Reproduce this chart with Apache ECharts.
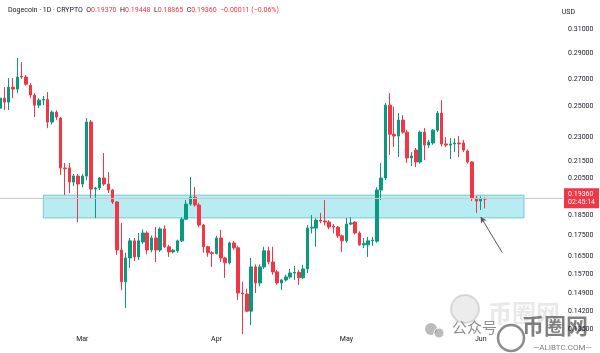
<!DOCTYPE html>
<html>
<head>
<meta charset="utf-8">
<script src="https://cdn.jsdelivr.net/npm/echarts@6/dist/echarts.min.js"></script>
<style>
  html, body { margin: 0; padding: 0; background: #fff; }
  #main { width: 600px; height: 353px; }
</style>
</head>
<body>
<div id="main"></div>
<script>
// daily candles, Feb 10 .. Jun 2 2025  [open, close, low, high]
const startDay = '2025-02-10'
const dayCount = 131
const monthNames = ['Jan', 'Feb', 'Mar', 'Apr', 'May', 'Jun', 'Jul']
const ohlc = [
  [0.2490, 0.2560, 0.2423, 0.2596],
  [0.2560, 0.2532, 0.2477, 0.2639],
  [0.2532, 0.2639, 0.2477, 0.2706],
  [0.2639, 0.2625, 0.2560, 0.2706],
  [0.2625, 0.2714, 0.2596, 0.2861],
  [0.2720, 0.2714, 0.2700, 0.2829],
  [0.2714, 0.2661, 0.2650, 0.2729],
  [0.2654, 0.2582, 0.2560, 0.2668],
  [0.2582, 0.2511, 0.2430, 0.2596],
  [0.2511, 0.2546, 0.2490, 0.2560],
  [0.2546, 0.2550, 0.2511, 0.2575],
  [0.2550, 0.2396, 0.2356, 0.2603],
  [0.2396, 0.2463, 0.2380, 0.2475],
  [0.2463, 0.2430, 0.2410, 0.2475],
  [0.2423, 0.2110, 0.2069, 0.2430],
  [0.2110, 0.2105, 0.1957, 0.2139],
  [0.2110, 0.2029, 0.1968, 0.2139],
  [0.2029, 0.2063, 0.2007, 0.2075],
  [0.2063, 0.2018, 0.1816, 0.2075],
  [0.2018, 0.2063, 0.2000, 0.2075], // Mar 1
  [0.2063, 0.2396, 0.2040, 0.2423],
  [0.2396, 0.1990, 0.1941, 0.2410],
  [0.1990, 0.1996, 0.1837, 0.2002],
  [0.1996, 0.2052, 0.1985, 0.2058],
  [0.2052, 0.2018, 0.2007, 0.2199],
  [0.2018, 0.1985, 0.1968, 0.2086],
  [0.1985, 0.1920, 0.1909, 0.1990],
  [0.1920, 0.1681, 0.1658, 0.1925],
  [0.1681, 0.1539, 0.1504, 0.1811],
  [0.1539, 0.1644, 0.1431, 0.1668],
  [0.1644, 0.1724, 0.1599, 0.1738],
  [0.1724, 0.1649, 0.1630, 0.1738],
  [0.1649, 0.1724, 0.1635, 0.1762],
  [0.1719, 0.1762, 0.1710, 0.1780],
  [0.1762, 0.1681, 0.1660, 0.1770],
  [0.1681, 0.1738, 0.1670, 0.1750],
  [0.1738, 0.1681, 0.1626, 0.1791],
  [0.1681, 0.1782, 0.1672, 0.1790],
  [0.1782, 0.1696, 0.1690, 0.1800],
  [0.1696, 0.1672, 0.1649, 0.1705],
  [0.1672, 0.1680, 0.1665, 0.1686],
  [0.1677, 0.1724, 0.1668, 0.1730],
  [0.1724, 0.1831, 0.1719, 0.1840],
  [0.1831, 0.1909, 0.1826, 0.1930],
  [0.1909, 0.1946, 0.1900, 0.2058],
  [0.1946, 0.1904, 0.1895, 0.2002],
  [0.1904, 0.1801, 0.1790, 0.1915],
  [0.1801, 0.1696, 0.1668, 0.1806],
  [0.1696, 0.1668, 0.1650, 0.1700],
  [0.1668, 0.1665, 0.1604, 0.1675],
  [0.1665, 0.1738, 0.1660, 0.1748], // Apr 1
  [0.1738, 0.1644, 0.1626, 0.1777],
  [0.1644, 0.1622, 0.1556, 0.1650],
  [0.1622, 0.1714, 0.1615, 0.1720],
  [0.1714, 0.1691, 0.1680, 0.1724],
  [0.1691, 0.1492, 0.1463, 0.1700],
  [0.1492, 0.1488, 0.1332, 0.1539],
  [0.1488, 0.1419, 0.1415, 0.1510],
  [0.1419, 0.1604, 0.1365, 0.1644],
  [0.1604, 0.1534, 0.1492, 0.1615],
  [0.1534, 0.1604, 0.1520, 0.1615],
  [0.1604, 0.1677, 0.1595, 0.1696],
  [0.1677, 0.1626, 0.1615, 0.1696],
  [0.1626, 0.1582, 0.1570, 0.1696],
  [0.1582, 0.1534, 0.1526, 0.1590],
  [0.1534, 0.1547, 0.1504, 0.1552],
  [0.1547, 0.1560, 0.1540, 0.1570],
  [0.1560, 0.1577, 0.1552, 0.1595],
  [0.1577, 0.1580, 0.1547, 0.1608],
  [0.1580, 0.1556, 0.1526, 0.1590],
  [0.1556, 0.1595, 0.1550, 0.1613],
  [0.1595, 0.1786, 0.1577, 0.1801],
  [0.1786, 0.1791, 0.1760, 0.1852],
  [0.1786, 0.1826, 0.1696, 0.1835],
  [0.1826, 0.1821, 0.1810, 0.1862],
  [0.1821, 0.1816, 0.1800, 0.1930],
  [0.1816, 0.1791, 0.1780, 0.1826],
  [0.1796, 0.1791, 0.1760, 0.1806],
  [0.1791, 0.1748, 0.1738, 0.1796],
  [0.1748, 0.1724, 0.1672, 0.1755],
  [0.1724, 0.1806, 0.1715, 0.1837], // May 1
  [0.1806, 0.1812, 0.1800, 0.1840],
  [0.1816, 0.1762, 0.1755, 0.1821],
  [0.1762, 0.1705, 0.1700, 0.1770],
  [0.1705, 0.1712, 0.1690, 0.1738],
  [0.1705, 0.1724, 0.1649, 0.1743],
  [0.1724, 0.1728, 0.1700, 0.1743],
  [0.1722, 0.1985, 0.1715, 0.2000],
  [0.1985, 0.2052, 0.1930, 0.2139],
  [0.2052, 0.2511, 0.2040, 0.2525],
  [0.2511, 0.2317, 0.2187, 0.2596],
  [0.2317, 0.2305, 0.2236, 0.2500],
  [0.2305, 0.2409, 0.2175, 0.2456],
  [0.2409, 0.2330, 0.2320, 0.2443],
  [0.2330, 0.2169, 0.2140, 0.2345],
  [0.2169, 0.2181, 0.2121, 0.2205],
  [0.2217, 0.2145, 0.2115, 0.2230],
  [0.2145, 0.2330, 0.2135, 0.2340],
  [0.2330, 0.2248, 0.2157, 0.2356],
  [0.2248, 0.2267, 0.2230, 0.2280],
  [0.2261, 0.2343, 0.2250, 0.2350],
  [0.2343, 0.2456, 0.2330, 0.2470],
  [0.2456, 0.2255, 0.2240, 0.2546],
  [0.2255, 0.2248, 0.2235, 0.2298],
  [0.2248, 0.2255, 0.2163, 0.2292],
  [0.2255, 0.2261, 0.2205, 0.2290],
  [0.2261, 0.2255, 0.2175, 0.2305],
  [0.2261, 0.2217, 0.2205, 0.2280],
  [0.2211, 0.2145, 0.2135, 0.2220],
  [0.2145, 0.1941, 0.1925, 0.2150],
  [0.1941, 0.1925, 0.1862, 0.1952],
  [0.1925, 0.19371, 0.1878, 0.1950],
  [0.19370, 0.19360, 0.18865, 0.19448] // Jun 2
]
const yTicks = [0.31, 0.29, 0.27, 0.25, 0.23, 0.215, 0.205, 0.185, 0.175, 0.165, 0.157, 0.149, 0.142, 0.135]
// support zone drawn on the chart
const zoneFrom = '2025-02-20'
const zoneTo = '2025-06-11'
const zoneTop = 0.1957
const zoneBottom = 0.1837
// arrow pointing at the zone
const arrowFrom = ['2025-06-06', 0.1668]
const arrowTo = ['2025-06-01', 0.1842]
const countdown = '02:45:14'

const upColor = '#089981'
const downColor = '#F23645'

let days = []
let t0 = new Date(startDay + 'T00:00:00Z').getTime()
for (let i = 0; i < dayCount; i++) {
  days.push(new Date(t0 + i * 86400000).toISOString().slice(0, 10))
}

// log price scale: plot ln(price) on a value axis
const logData = ohlc.map(r => r.map(v => Math.log(v)))
const last = ohlc[ohlc.length - 1]
const prevClose = ohlc[ohlc.length - 2][1]
const chg = last[1] - prevClose
const pct = chg / prevClose * 100
const fmt = v => v.toFixed(5)
const signed = (v, d) => (v < 0 ? '\u2212' : '+') + Math.abs(v).toFixed(d)

let myChart = echarts.init(document.getElementById('main'))
let option = {
  animation: false,
  textStyle: { fontFamily: 'Roboto, "Noto Sans", sans-serif' },
  title: [{
    left: 3,
    top: 2,
    text: '{n|Dogecoin · 1D · CRYPTO}  {k|O}{v|' + fmt(last[0]) + '}  {k|H}{v|' + fmt(last[3]) +
      '}  {k|L}{v|' + fmt(last[2]) + '}  {k|C}{v|' + fmt(last[1]) + '}  {v|' +
      signed(chg, 5) + ' (' + signed(pct, 2) + '%)}',
    textStyle: {
      fontSize: 7,
      fontWeight: 'normal',
      rich: {
        n: { fontSize: 7, color: '#131722' },
        k: { fontSize: 7, color: '#131722' },
        v: { fontSize: 7, color: downColor }
      }
    }
  }, {
    right: 20,
    top: 4,
    text: 'USD',
    textStyle: { fontSize: 7, fontWeight: 'normal', color: '#131722' }
  }],
  grid: { left: 0, right: 37, top: 0, bottom: 20 },
  xAxis: {
    type: 'category',
    data: days,
    boundaryGap: false,
    axisLine: { show: false },
    axisTick: { show: false },
    splitLine: { show: false },
    axisLabel: {
      interval: (idx, val) => val.slice(8) === '01',
      formatter: val => monthNames[+val.slice(5, 7) - 1],
      fontSize: 7,
      color: '#131722',
      margin: 3
    }
  },
  yAxis: {
    type: 'value',
    position: 'right',
    min: Math.log(0.13356),
    max: Math.log(0.3360),
    splitLine: { show: false },
    axisLine: { show: false },
    axisTick: { show: false },
    axisLabel: {
      customValues: yTicks.map(v => Math.log(v)),
      formatter: v => Math.exp(v).toFixed(5),
      fontSize: 7,
      color: '#131722',
      margin: 5
    }
  },
  series: [{
    type: 'candlestick',
    data: logData,
    barWidth: 3,
    clip: false,
    itemStyle: {
      color: upColor,
      color0: downColor,
      borderColor: upColor,
      borderColor0: downColor,
      borderWidth: 1
    },
    markArea: {
      silent: true,
      itemStyle: {
        color: 'rgba(0,188,212,0.28)',
        borderColor: 'rgba(0,151,167,0.45)',
        borderWidth: 1
      },
      data: [[
        { xAxis: zoneFrom, yAxis: Math.log(zoneTop) },
        { xAxis: zoneTo, yAxis: Math.log(zoneBottom) }
      ]]
    },
    markLine: {
      silent: true,
      symbol: 'none',
      data: [
        {
          yAxis: Math.log(last[1]),
          lineStyle: { color: '#c8c8c8', width: 1, type: 'solid' },
          label: {
            show: true,
            position: 'end',
            distance: 1,
            formatter: fmt(last[1]) + '\n' + countdown,
            backgroundColor: downColor,
            color: '#fff',
            fontSize: 7,
            lineHeight: 8,
            padding: [2, 4, 2, 4]
          }
        },
        [
          { coord: [arrowFrom[0], Math.log(arrowFrom[1])], symbol: 'none' },
          {
            coord: [arrowTo[0], Math.log(arrowTo[1])],
            symbol: 'arrow',
            symbolSize: [5, 6],
            lineStyle: { color: '#555', width: 1, type: 'solid' },
            label: { show: false }
          }
        ]
      ]
    }
  }],
  // watermark
  graphic: [
    { type: 'circle', shape: { cx: 465, cy: 309, r: 14 }, style: { fill: 'rgba(150,150,150,0.18)', stroke: 'rgba(150,150,150,0.3)', lineWidth: 2 } },
    { type: 'text', left: 488, top: 301, style: { text: '币圈网', font: 'bold 24px "Noto Sans CJK SC"', fill: 'rgba(150,150,150,0.22)' } },
    { type: 'circle', shape: { cx: 431, cy: 329, r: 6 }, style: { fill: 'rgba(120,120,120,0.5)' } },
    { type: 'circle', shape: { cx: 439, cy: 333, r: 5 }, style: { fill: 'rgba(120,120,120,0.5)', stroke: '#fff', lineWidth: 1 } },
    { type: 'text', left: 452, top: 320, style: { text: '公众号', font: '15px "Noto Sans CJK SC"', fill: 'rgba(95,95,95,0.7)' } },
    { type: 'circle', shape: { cx: 511, cy: 338, r: 13 }, style: { fill: 'rgba(255,255,255,0.6)', stroke: 'rgba(90,90,90,0.7)', lineWidth: 2.5 } },
    { type: 'text', left: 522, top: 315, style: { text: '币圈网', font: 'bold 22px "Noto Sans CJK SC"', fill: 'rgba(85,85,85,0.75)' } },
    { type: 'text', left: 533, top: 344, style: { text: '—ALIBTC.COM—', font: '8px Roboto', fill: 'rgba(90,90,90,0.8)' } }
  ]
}
myChart.setOption(option)
window.addEventListener('resize', function () {
  myChart.resize()
})
</script>
</body>
</html>
